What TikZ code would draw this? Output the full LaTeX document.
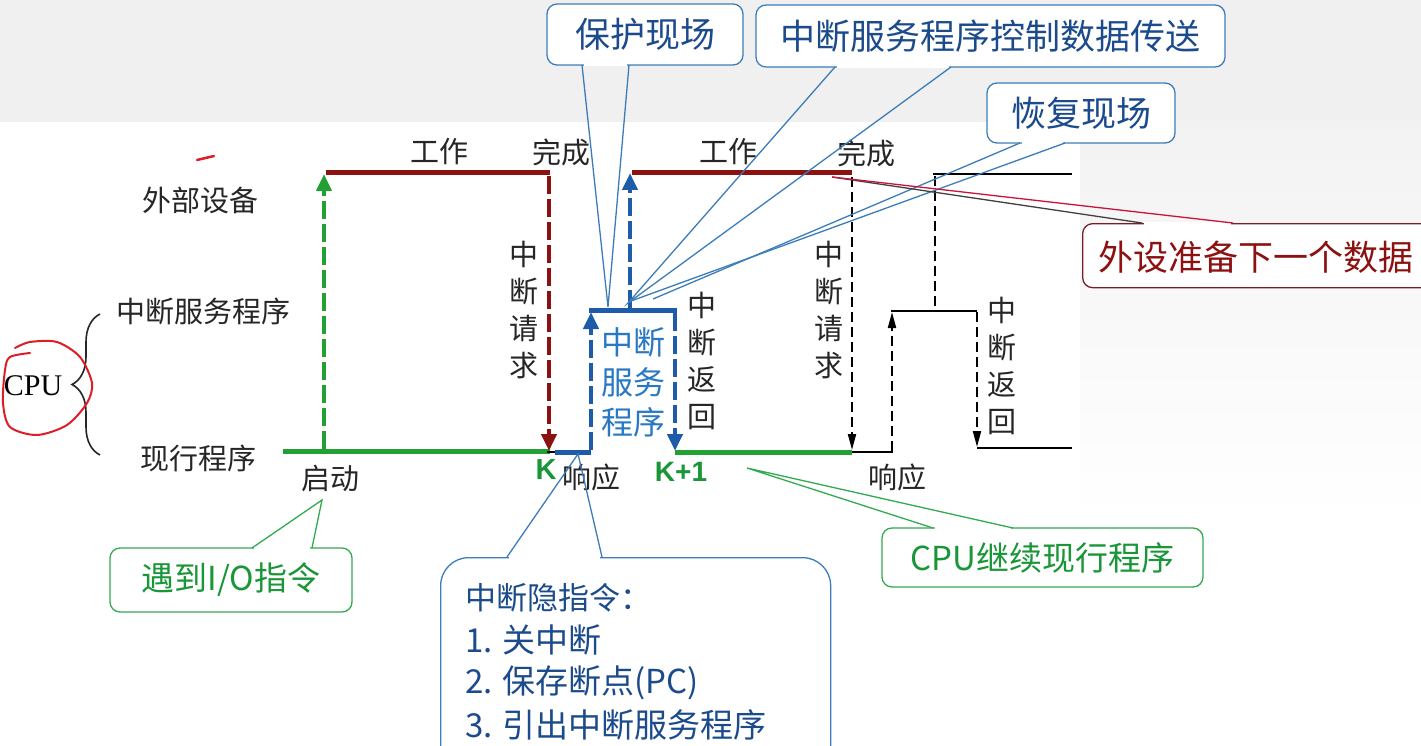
\documentclass[tikz,border=0pt]{standalone}
\usepackage{fontspec}
\setmainfont{Noto Sans CJK SC}
\newfontfamily\serifL{Liberation Serif}
\newfontfamily\kfont{Liberation Sans}
\usetikzlibrary{arrows.meta,calc,decorations.pathreplacing}
\definecolor{dred}{RGB}{140,18,18}
\definecolor{pgreen}{RGB}{34,160,52}
\definecolor{sblue}{RGB}{30,92,170}
\definecolor{tblue}{RGB}{40,120,195}
\definecolor{cblue}{RGB}{60,125,185}
\definecolor{ctext}{RGB}{28,75,140}
\definecolor{cgreen}{RGB}{50,170,80}
\definecolor{gtext}{RGB}{25,150,55}
\definecolor{crim}{RGB}{200,20,60}
\definecolor{hred}{RGB}{220,30,40}
\definecolor{rbord}{RGB}{120,30,40}
\begin{document}
\begin{tikzpicture}[x=1pt,y=-1pt,
  lab/.style={font=\fontsize{29}{32}\selectfont, inner sep=0pt, text=black!85},
  vlab/.style={font=\fontsize{29}{37}\selectfont, align=center, inner sep=0pt, text=black!85},
  dev/.style={dred, line width=5pt},
  cur/.style={pgreen, line width=5pt},
  isr/.style={sblue, line width=5pt},
  thick dash/.style={line width=4.5pt, dash pattern=on 18pt off 5pt},
  bigtip/.style={-{Triangle[length=17pt,width=15pt]}},
  blk/.style={black, line width=2pt},
  blkdash/.style={black, line width=2pt, dash pattern=on 10pt off 5pt},
  smalltip/.style={-{Triangle[length=16pt,width=8pt]}},
  cbox/.style={draw=cblue, line width=1.3pt, rounded corners=10pt, fill=white, text=ctext, font=\fontsize{35}{40}\selectfont, inner sep=0pt},
  gbox/.style={draw=cgreen, line width=1.3pt, rounded corners=10pt, fill=white, text=gtext, font=\fontsize{33}{40}\selectfont, inner sep=0pt},
  rbox/.style={draw=rbord, line width=1.3pt, rounded corners=10pt, fill=white, inner sep=0pt},
  ctail/.style={cblue, line width=1.3pt},
  gtail/.style={cgreen, line width=1.3pt},
  mask/.style={white, line width=3pt}
]
\useasboundingbox (0,0) rectangle (1421,746);
% background
\fill[white] (0,0) rectangle (1421,746);
\fill[gray!12] (0,0) rectangle (1421,122);
\shade[top color=gray!10, bottom color=white] (1080,122) rectangle (1421,520);

% left labels
\node[lab] (ext) at (200,200) {外部设备};
\node[lab] (isrlab) at (203,311) {中断服务程序};
\node[lab] (curlab) at (198,458) {现行程序};
\node[font=\serifL\fontsize{30}{32}\selectfont, inner sep=0pt] (cpu) at (33,386) {CPU};
\draw[decorate, decoration={brace, amplitude=28pt, aspect=0.5}, line width=1.6pt, black!85] (100,455) -- (100,314);
% hand-drawn marks
\draw[hred, line width=2pt, line cap=round] plot[smooth] coordinates {(15,348) (30,342) (57,342) (80,357) (92,383) (87,403) (67,425) (37,435) (10,427) (3,403) (5,370) (10,357) (30,353)};
\draw[hred, line width=2.5pt, line cap=round] (197,160) -- (214,156);

% timing: first cycle
\coordinate (g0) at (283,451);
\coordinate (gk) at (550,451);
\coordinate (d1a) at (326,173);
\coordinate (d1b) at (550,173);
\draw[cur] (g0) -- (gk);
\draw[dev] (d1a) -- (d1b);
\draw[pgreen, thick dash, bigtip] (324,449) -- (324,174);
\draw[dred, thick dash, bigtip] (549,176) -- (549,451);
\draw[black, line width=2pt] (547,452) -- (556,452);

% interrupt service (blue)
\coordinate (bk) at (555,452);
\coordinate (bl) at (591,452);
\coordinate (tl) at (589,310);
\coordinate (tr) at (677,310);
\draw[isr] (bk) -- (bl);
\draw[isr] (tl) -- (tr);
\draw[sblue, thick dash, bigtip] (591,450) -- (591,312);
\draw[sblue, thick dash, bigtip] (675,313) -- (675,451);
\draw[sblue, thick dash, bigtip] (630,308) -- (630,173);
\node[font=\fontsize{32}{40}\selectfont, text=tblue, align=center, inner sep=0pt] (isrtext) at (633,382) {中断\\服务\\程序};

% second cycle
\draw[cur] (675,452) -- (852,452);
\draw[dev] (632,173) -- (852,173);
\draw[blkdash, smalltip] (852,177) -- (852,450);
\draw[blk] (852,452) -- (893,452);
\draw[blkdash, smalltip] (892,451) -- (892,312);
\draw[blk] (891,311) -- (977,311);
\draw[blkdash, smalltip] (977,312) -- (977,447);
\draw[blk] (977,448) -- (1072,448);
\draw[blk] (933,174) -- (1072,174);
\draw[blkdash] (935,176) -- (935,311);

% timing labels
\node[lab] (w1) at (439,152) {工作};
\node[lab] (c1) at (561,152) {完成};
\node[lab] (w2) at (728,152) {工作};
\node[lab] (c2) at (866,153) {完成};
\node[vlab] (req1) at (524,310) {中\\断\\请\\求};
\node[vlab] (req2) at (829,310) {中\\断\\请\\求};
\node[vlab] (ret1) at (702,361) {中\\断\\返\\回};
\node[vlab] (ret2) at (1002,366) {中\\断\\返\\回};
\node[lab] (start) at (330,478) {启动};
\node[lab] (resp1) at (591,477) {响应};
\node[lab] (resp2) at (897,477) {响应};
\node[font=\kfont\bfseries\fontsize{29}{32}\selectfont, text=gtext, inner sep=0pt] (K) at (546,470) {K};
\node[font=\kfont\bfseries\fontsize{28}{32}\selectfont, text=gtext, inner sep=0pt] (K1) at (681,472) {K+1};

% callouts: 保护现场
\node[cbox, minimum width=196pt, minimum height=61pt] (bh) at (645,34.5) {保护现场};
\coordinate (bhA) at (582,65); \coordinate (bhB) at (629,65); \coordinate (bhT) at (608,307);
\draw[mask] ($(bhA)+(2,0)$) -- ($(bhB)-(2,0)$);
\draw[ctail] (bhA) -- (bhT) -- (bhB);

% 中断服务程序控制数据传送
\node[cbox, minimum width=469pt, minimum height=62pt] (ctl) at (990.5,36) {中断服务程序控制数据传送};
\coordinate (ctA) at (835,67); \coordinate (ctB) at (951,67); \coordinate (ctT) at (628,303);
\draw[mask] ($(ctA)+(2,0)$) -- ($(ctB)-(2,0)$);
\draw[ctail] (ctA) -- (ctT) -- (ctB);

% 恢复现场
\node[cbox, minimum width=188pt, minimum height=60pt] (hf) at (1081,113) {恢复现场};
\coordinate (hfA) at (1020,143); \coordinate (hfB) at (1065,143);
\coordinate (hfT1) at (653,299); \coordinate (hfT2) at (631,301);
\draw[mask] ($(hfA)+(2,0)$) -- ($(hfB)-(2,0)$);
\draw[ctail] (hfA) -- (hfT1);
\draw[ctail] (hfB) -- (hfT2);

% 外设准备下一个数据
\node[rbox, minimum width=380pt, minimum height=64pt, anchor=north west] (wsbox) at (1082,223) {};
\node[font=\fontsize{35}{40}\selectfont, text=dred, anchor=west, inner sep=0pt] (wstext) at (1098,257) {外设准备下一个数据};
\coordinate (wsA) at (1142,223); \coordinate (wsB) at (1233,223); \coordinate (wsT) at (832,177);
\draw[mask] ($(wsA)+(2,0)$) -- ($(wsB)-(2,0)$);
\draw[black!75, line width=1.3pt] (wsT) -- (wsA);
\draw[crim, line width=1.3pt] (wsT) -- (wsB);

% 遇到I/O指令
\node[gbox, minimum width=242pt, minimum height=64pt] (io) at (231,580) {遇到I/O指令};
\coordinate (ioA) at (252,548); \coordinate (ioB) at (312,548); \coordinate (ioT) at (322,500);
\draw[mask] ($(ioA)+(2,0)$) -- ($(ioB)-(2,0)$);
\draw[gtail] (ioA) -- (ioT) -- (ioB);

% CPU继续现行程序
\node[gbox, minimum width=321pt, minimum height=59pt] (cont) at (1042.5,557.5) {CPU继续现行程序};
\coordinate (coA) at (933,528); \coordinate (coB) at (1013,528); \coordinate (coT) at (747,468);
\draw[mask] ($(coA)+(2,0)$) -- ($(coB)-(2,0)$);
\draw[gtail] (coA) -- (coT) -- (coB);

% 中断隐指令
\node[cbox, rounded corners=28pt, minimum width=390pt, minimum height=230pt, anchor=north west] (yin) at (440,557) {};
\coordinate (yiA) at (507,557); \coordinate (yiB) at (602,557); \coordinate (yiT) at (578,454);
\draw[mask] ($(yiA)+(2,0)$) -- ($(yiB)-(2,0)$);
\draw[ctail] (yiA) -- (yiT) -- (yiB);
\node[font=\fontsize{31}{36}\selectfont, text=ctext, anchor=west, inner sep=0pt] (yin0) at (465,598) {中断隐指令：};
\node[font=\fontsize{33}{36}\selectfont, text=ctext, anchor=west, inner sep=0pt] (yin1) at (465,640) {1. 关中断};
\node[font=\fontsize{33}{36}\selectfont, text=ctext, anchor=west, inner sep=0pt] (yin2) at (465,683) {2. 保存断点(PC)};
\node[font=\fontsize{33}{36}\selectfont, text=ctext, anchor=west, inner sep=0pt] (yin3) at (465,725) {3. 引出中断服务程序};
\end{tikzpicture}
\end{document}
